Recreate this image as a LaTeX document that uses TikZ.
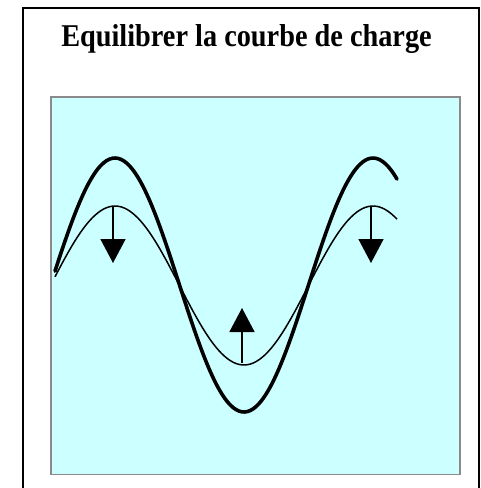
\documentclass[tikz,border=0pt]{standalone}
\usepackage{fontspec}
\setmainfont{Liberation Serif}
\usetikzlibrary{arrows.meta}
\definecolor{panelcyan}{HTML}{CCFFFF}
\definecolor{panelgray}{HTML}{8A8A8A}
\tikzset{
  outerframe/.style={line width=2pt,black},
  panel/.style={fill=panelcyan,draw=panelgray,line width=1.6pt},
  thickcurve/.style={line width=3.6pt,black,line join=round,line cap=round},
  thincurve/.style={line width=1.5pt,black,line join=round},
  bigarrow/.style={line width=1.6pt,-{Triangle[width=25pt,length=24pt]}},
}
\begin{document}
\begin{tikzpicture}[x=1pt,y=-1pt]
\useasboundingbox (0,0) rectangle (481,488);
% outer frame (open at bottom)
\draw[outerframe] (23,490) -- (23,8) -- (479,8) -- (479,490);
% title
\node[font=\bfseries\fontsize{28.3}{30}\selectfont,anchor=base,inner sep=0pt] (title) at (246.5,46.7) {\scalebox{1}[1.12]{Equilibrer la courbe de charge}};
% panel
\draw[panel] (51,97) rectangle (460,474.5);
% curves
\draw[thickcurve] plot[domain=55:397,samples=120,smooth] (\x,{285-127*cos(1.39535*(\x-115))});
\draw[thincurve] plot[domain=55:397,samples=120,smooth] (\x,{285.5-79.5*cos(1.39535*(\x-115))});
% arrows
\coordinate (a1s) at (113,206);
\coordinate (a1e) at (113,263);
\coordinate (a2s) at (242,363);
\coordinate (a2e) at (242,308);
\coordinate (a3s) at (371,206);
\coordinate (a3e) at (371,263);
\draw[bigarrow] (a1s) -- (a1e);
\draw[bigarrow] (a2s) -- (a2e);
\draw[bigarrow] (a3s) -- (a3e);
\end{tikzpicture}
\end{document}
